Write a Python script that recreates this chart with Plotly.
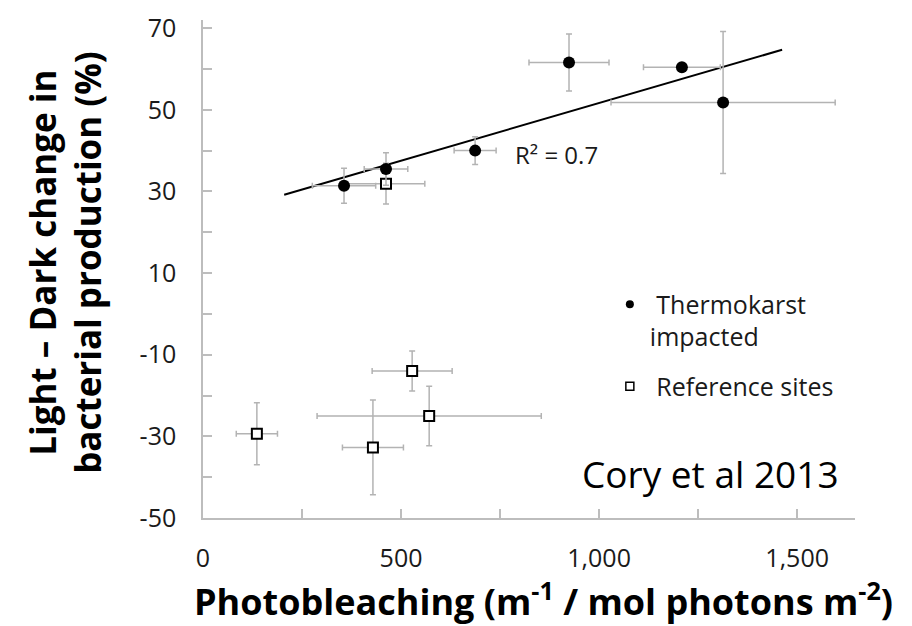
import plotly.graph_objects as go

# ---- data ----
thermo_x = [356, 462, 687, 924, 1209, 1313]
thermo_y = [31.4, 35.5, 40.0, 61.6, 60.4, 51.8]
thermo_xerr = [80, 55, 53, 101, 97, 283]
thermo_yerr = [4.3, 4.0, 3.4, 7.0, 0, 17.4]

ref_x = [462, 136, 528, 571, 429]
ref_y = [31.9, -29.35, -14.0, -25.0, -32.7]
ref_xerr = [98, 52, 101, 283, 77]
ref_yerr = [5.0, 7.6, 4.9, 7.3, 11.6]

trend_x = [205, 1462]
trend_y = [29.2, 64.7]

x_tickvals = [0, 500, 1000, 1500]
x_ticktext = ["0", "500", "1,000", "1,500"]
y_tickvals = [70, 50, 30, 10, -10, -30, -50]
y_ticktext = ["70", "50", "30", "10", "-10", "-30", "-50"]

legend_names = ["\u00a0Thermokarst<br>impacted", "\u00a0Reference sites"]

FONT = "Open Sans"
GRID = "#bdbdbd"
ERR = "#b3b3b3"

fig = go.Figure()

fig.add_trace(go.Scatter(
    x=trend_x, y=trend_y, mode="lines",
    line=dict(color="black", width=2), showlegend=False, hoverinfo="skip"))

fig.add_trace(go.Scatter(
    x=ref_x, y=ref_y, mode="markers", showlegend=False,
    marker=dict(symbol="square", size=10, color="white",
                line=dict(color="black", width=2)),
    error_x=dict(type="data", array=ref_xerr, color=ERR, thickness=1.5, width=3),
    error_y=dict(type="data", array=ref_yerr, color=ERR, thickness=1.5, width=3)))

fig.add_trace(go.Scatter(
    x=thermo_x, y=thermo_y, mode="markers", showlegend=False,
    marker=dict(symbol="circle", size=12, color="black"),
    error_x=dict(type="data", array=thermo_xerr, color=ERR, thickness=1.5, width=3),
    error_y=dict(type="data", array=thermo_yerr, color=ERR, thickness=1.5, width=3)))

# legend entries
fig.add_trace(go.Scatter(
    x=[None], y=[None], mode="markers", name=legend_names[0], legendgroup="a",
    marker=dict(symbol="circle", size=8, color="black")))
fig.add_trace(go.Scatter(
    x=[None], y=[None], mode="markers", name=legend_names[1], legendgroup="b",
    marker=dict(symbol="square", size=8, color="white",
                line=dict(color="black", width=1.5))))

fig.update_layout(
    width=912, height=626,
    margin=dict(l=203, r=57, t=10, b=108),
    paper_bgcolor="white", plot_bgcolor="white",
    font=dict(family=FONT, color="#1a1a1a"),
    showlegend=True,
    legend=dict(x=0.624, y=0.475, xanchor="left", yanchor="top",
                bgcolor="rgba(0,0,0,0)", font=dict(size=25, family=FONT, color="#1a1a1a"),
                valign="top", traceorder="grouped", tracegroupgap=14),
    xaxis=dict(range=[0, 1646], showgrid=False, zeroline=False,
               showline=True, linecolor=GRID, linewidth=1.5,
               tickmode="array", tickvals=x_tickvals, ticktext=x_ticktext,
               ticks="inside", ticklen=9, tickcolor=GRID, tickwidth=1.5,
               minor=dict(dtick=250, tick0=0, ticks="inside", ticklen=9,
                          tickcolor=GRID, tickwidth=1.5),
               tickfont=dict(size=25, family=FONT, color="#1a1a1a"),
               ticklabelstandoff=17),
    yaxis=dict(range=[-50, 72], showgrid=False, zeroline=False,
               showline=True, linecolor=GRID, linewidth=1.5,
               tickmode="array", tickvals=y_tickvals, ticktext=y_ticktext,
               ticks="inside", ticklen=9, tickcolor=GRID, tickwidth=1.5,
               minor=dict(dtick=10, tick0=0, ticks="inside", ticklen=9,
                          tickcolor=GRID, tickwidth=1.5),
               tickfont=dict(size=25, family=FONT, color="#1a1a1a"),
               ticklabelstandoff=20),
)

fig.add_annotation(x=783, y=39.1, xref="x", yref="y", xanchor="left", yanchor="middle",
                   text="R\u00b2 = 0.7", showarrow=False,
                   font=dict(size=24, family=FONT, color="#1a1a1a"))

fig.add_annotation(x=0.779, y=0.0886, xref="paper", yref="paper",
                   xanchor="center", yanchor="middle",
                   text="Cory et al 2013", showarrow=False,
                   font=dict(size=37, family=FONT, color="black"))

fig.add_annotation(x=0.523, y=-0.163, xref="paper", yref="paper",
                   xanchor="center", yanchor="middle",
                   text="<b>Photobleaching (m<sup>-1</sup> / mol photons m<sup>-2</sup>)</b>",
                   showarrow=False, font=dict(size=36, family=FONT, color="black"))

fig.add_annotation(x=-0.212, y=0.512, xref="paper", yref="paper",
                   xanchor="center", yanchor="middle", textangle=-90,
                   text="<b>Light \u2013 Dark change in<br>bacterial production (%)</b>",
                   showarrow=False, font=dict(size=35, family=FONT, color="black"))

fig.write_html("out.html")
